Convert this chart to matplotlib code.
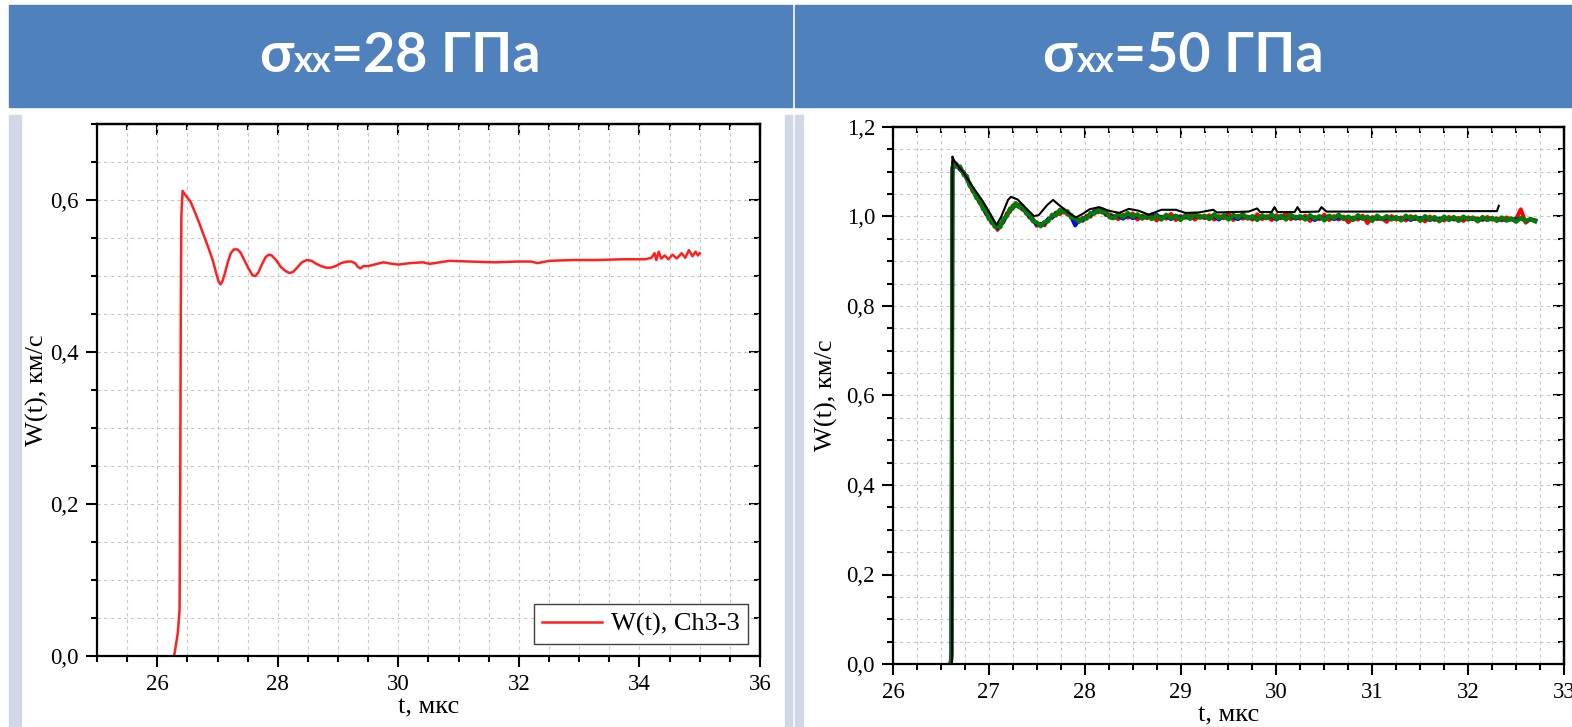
import matplotlib.pyplot as plt
from matplotlib.patches import Rectangle
from matplotlib.ticker import MultipleLocator, FuncFormatter

# ---------------- data ----------------
# left panel: sigma_xx = 28 GPa
t_28 = [26.28, 26.34, 26.37, 26.38, 26.39, 26.40, 26.42, 26.47, 26.55, 26.62,
        26.70, 26.76, 26.84, 26.92, 26.98, 27.02, 27.05, 27.08, 27.12, 27.17,
        27.22, 27.27, 27.33, 27.38, 27.45, 27.52, 27.58, 27.63, 27.68, 27.74,
        27.80, 27.85, 27.90, 27.97, 28.05, 28.12, 28.19, 28.25, 28.32, 28.40,
        28.48, 28.56, 28.64, 28.72, 28.80, 28.88, 28.96, 29.05, 29.15, 29.22,
        29.28, 29.33, 29.37, 29.42, 29.50, 29.60, 29.75, 29.90, 30.00, 30.20,
        30.41, 30.52, 30.85, 31.19, 31.60, 31.96, 32.20, 32.31, 32.51, 32.90,
        33.30, 33.70, 34.10, 34.20, 34.25, 34.28, 34.32, 34.36, 34.42, 34.48,
        34.55, 34.62, 34.70, 34.76, 34.82, 34.88, 34.93, 34.97, 35.00]
w_28 = [0.000, 0.030, 0.060, 0.200, 0.450, 0.580, 0.612, 0.606, 0.598, 0.585,
        0.569, 0.556, 0.539, 0.521, 0.503, 0.492, 0.489, 0.493, 0.503, 0.518,
        0.530, 0.535, 0.535, 0.531, 0.520, 0.509, 0.501, 0.500, 0.505, 0.516,
        0.525, 0.528, 0.527, 0.521, 0.512, 0.507, 0.504, 0.505, 0.511, 0.518,
        0.521, 0.520, 0.516, 0.513, 0.511, 0.511, 0.513, 0.517, 0.519, 0.519,
        0.517, 0.512, 0.510, 0.513, 0.513, 0.515, 0.518, 0.516, 0.515, 0.517,
        0.518, 0.516, 0.520, 0.519, 0.518, 0.519, 0.519, 0.517, 0.520, 0.521,
        0.521, 0.522, 0.522, 0.524, 0.530, 0.521, 0.532, 0.523, 0.527, 0.522,
        0.528, 0.523, 0.530, 0.524, 0.534, 0.526, 0.532, 0.527, 0.530]

# right panel: sigma_xx = 50 GPa, three noisy channels on a common time base
t_osc = [26.60, 26.61, 26.62, 26.63, 26.66, 26.70, 26.74, 26.77, 26.80, 26.83,
         26.87, 26.90, 26.94, 26.97, 27.00, 27.03, 27.06, 27.09, 27.12, 27.15,
         27.19, 27.22, 27.25, 27.28, 27.32, 27.35, 27.39, 27.42, 27.46, 27.50,
         27.54, 27.58, 27.62, 27.66, 27.70, 27.74, 27.78, 27.82, 27.86, 27.90,
         27.94, 27.98, 28.02, 28.06, 28.10, 28.14, 28.18, 28.22, 28.26]
t_plat = [28.30, 28.35, 28.40, 28.45, 28.50, 28.55, 28.60, 28.65, 28.70, 28.75,
          28.80, 28.85, 28.90, 28.95, 29.00, 29.05, 29.10, 29.15, 29.20, 29.25,
          29.30, 29.35, 29.40, 29.45, 29.50, 29.55, 29.60, 29.65, 29.70, 29.75,
          29.80, 29.85, 29.90, 29.95, 30.00, 30.05, 30.10, 30.15, 30.20, 30.25,
          30.30, 30.35, 30.40, 30.45, 30.50, 30.55, 30.60, 30.65, 30.70, 30.75,
          30.80, 30.85, 30.90, 30.95, 31.00, 31.05, 31.10, 31.15, 31.20, 31.25,
          31.30, 31.35, 31.40, 31.45, 31.50, 31.55, 31.60, 31.65, 31.70, 31.75,
          31.80, 31.85, 31.90, 31.95, 32.00, 32.05, 32.10, 32.15, 32.20, 32.25,
          32.30, 32.35, 32.40, 32.45, 32.50, 32.55, 32.60, 32.65, 32.70]

red_osc = [0.000, 0.020, 1.110, 1.114, 1.118, 1.104, 1.099, 1.083, 1.075, 1.056,
           1.049, 1.031, 1.022, 1.005, 1.000, 0.985, 0.983, 0.970, 0.983, 0.986,
           1.008, 1.010, 1.025, 1.023, 1.027, 1.015, 1.013, 0.998, 0.995, 0.979,
           0.984, 0.980, 0.995, 0.997, 1.009, 1.005, 1.016, 1.004, 1.004, 0.989,
           0.994, 0.990, 1.002, 0.999, 1.013, 1.009, 1.017, 1.003, 1.005]
red_plat = [1.001, 0.994, 1.004, 0.997, 1.007, 0.993, 1.002, 0.996, 1.005, 0.991,
            1.000, 0.995, 1.006, 0.992, 1.001, 0.997, 1.004, 0.993, 1.002, 0.996,
            1.003, 0.993, 1.001, 0.996, 1.007, 0.992, 1.002, 0.995, 1.000, 0.993,
            1.005, 0.994, 1.001, 0.992, 1.003, 0.996, 1.008, 0.994, 1.000, 0.995,
            1.002, 0.990, 0.999, 0.994, 1.004, 0.992, 1.001, 0.993, 1.000, 0.987,
            0.998, 0.993, 1.002, 0.985, 0.999, 0.994, 0.996, 0.988, 1.001, 0.993,
            0.998, 0.991, 1.001, 0.994, 0.997, 0.989, 1.000, 0.992, 0.996, 0.991,
            0.999, 0.993, 0.997, 0.990, 0.998, 0.994, 0.996, 0.992, 0.999, 0.993,
            0.996, 0.991, 0.998, 0.993, 0.995, 1.016, 0.986, 0.995, 0.991]

blue_osc = [0.000, 0.025, 1.100, 1.124, 1.116, 1.106, 1.097, 1.086, 1.070, 1.061,
            1.044, 1.035, 1.019, 1.008, 0.999, 0.988, 0.982, 0.974, 0.982, 0.989,
            1.003, 1.015, 1.020, 1.029, 1.022, 1.018, 1.012, 1.001, 0.992, 0.982,
            0.983, 0.984, 0.994, 0.998, 1.007, 1.012, 1.011, 1.010, 0.999, 0.980,
            0.992, 0.993, 0.999, 1.003, 1.011, 1.012, 1.012, 1.006, 1.001]
blue_plat = [0.999, 1.002, 0.995, 1.004, 0.996, 1.001, 0.998, 1.000, 0.997, 1.004,
             0.996, 1.001, 0.994, 1.002, 0.997, 1.000, 0.995, 1.003, 0.998, 0.999,
             0.997, 1.001, 0.993, 1.003, 0.996, 0.999, 0.994, 1.002, 0.997, 0.998,
             0.995, 1.000, 0.997, 1.001, 0.993, 1.000, 0.996, 1.002, 0.995, 0.999,
             0.996, 1.000, 0.992, 0.999, 0.995, 1.001, 0.994, 0.998, 0.996, 0.999,
             0.994, 0.999, 0.995, 0.998, 0.993, 0.999, 0.994, 0.997, 0.995, 0.998,
             0.994, 0.998, 0.992, 0.997, 0.995, 0.998, 0.992, 0.996, 0.994, 0.997,
             0.993, 0.996, 0.991, 0.997, 0.994, 0.996, 0.992, 0.995, 0.993, 0.996,
             0.992, 0.995, 0.991, 0.994, 0.993, 0.996, 0.990, 0.993, 0.991]

green_osc = [0.000, 0.012, 1.102, 1.121, 1.111, 1.112, 1.092, 1.091, 1.068, 1.063,
             1.041, 1.039, 1.016, 1.013, 0.994, 0.993, 0.977, 0.978, 0.976, 0.994,
             1.001, 1.018, 1.018, 1.030, 1.020, 1.024, 1.006, 1.006, 0.989, 0.987,
             0.978, 0.988, 0.989, 1.004, 1.002, 1.015, 1.009, 1.012, 0.997, 0.996,
             0.988, 0.997, 0.995, 1.008, 1.006, 1.016, 1.009, 1.011, 0.998]
green_plat = [0.996, 1.006, 0.998, 1.008, 0.999, 1.005, 0.995, 1.003, 0.994, 1.002,
              0.993, 1.004, 0.996, 1.001, 0.992, 1.003, 0.995, 1.006, 0.997, 1.002,
              0.994, 1.005, 0.996, 1.002, 0.993, 1.004, 0.997, 1.006, 0.995, 1.001,
              0.992, 1.003, 0.996, 1.005, 0.994, 1.002, 0.993, 1.004, 0.997, 1.001,
              0.993, 1.003, 0.995, 1.001, 0.991, 1.002, 0.996, 1.004, 0.994, 1.000,
              0.992, 1.003, 0.995, 1.000, 0.990, 1.002, 0.994, 1.001, 0.993, 0.999,
              0.991, 1.002, 0.994, 1.000, 0.990, 1.001, 0.993, 0.999, 0.989, 1.000,
              0.992, 0.999, 0.990, 1.000, 0.993, 0.998, 0.989, 0.999, 0.992, 0.997,
              0.990, 0.998, 0.991, 0.996, 0.988, 0.997, 0.990, 0.994, 0.989]

t_black = [26.615, 26.62, 26.64, 26.73, 26.83, 26.94, 27.02, 27.08, 27.13, 27.20,
           27.23, 27.30, 27.39, 27.47, 27.52, 27.61, 27.67, 27.73, 27.84, 27.91,
           27.98, 28.05, 28.15, 28.25, 28.36, 28.46, 28.56, 28.67, 28.80, 28.95,
           29.05, 29.19, 29.34, 29.38, 29.71, 29.80, 29.83, 29.95, 29.98, 30.01,
           30.19, 30.22, 30.25, 30.44, 30.47, 30.52, 31.00, 31.50, 32.22, 32.30, 32.32]
w_black = [0.000, 1.134, 1.123, 1.100, 1.067, 1.033, 1.004, 0.981, 1.000, 1.037,
           1.044, 1.038, 1.018, 1.001, 1.003, 1.026, 1.037, 1.026, 1.007, 0.998,
           1.006, 1.016, 1.021, 1.013, 1.008, 1.017, 1.013, 1.004, 1.015, 1.015,
           1.008, 1.009, 1.015, 1.009, 1.011, 1.018, 1.010, 1.010, 1.021, 1.010,
           1.010, 1.021, 1.010, 1.011, 1.021, 1.011, 1.011, 1.012, 1.012, 1.012, 1.024]

titles = ['28', '50']
legend_label = 'W(t), Ch3-3'
xlabel = 't, мкс'
ylabel = 'W(t), км/с'

# ---------------- figure ----------------
W, H = 1572, 727
fig = plt.figure(figsize=(W / 100, H / 100), dpi=100)
serif = 'Liberation Serif'
head_fonts = ['Lato', 'Open Sans', 'DejaVu Sans']


def box(x0, y0, x1, y1, color):
    fig.patches.append(Rectangle((x0 / W, 1 - y1 / H), (x1 - x0) / W, (y1 - y0) / H,
                                 transform=fig.transFigure, color=color, zorder=0))


# blue title bands and pale side strips
box(9, 5, 792, 107, '#4F81BD')
box(795, 5, 1572, 107, '#4F81BD')
for x0, x1 in [(9, 21), (785, 792), (795, 803)]:
    box(x0, 115, x1, 727, '#D0D8E8')


def header(cx, value):
    r = fig.canvas.get_renderer()
    parts = [('σ', 40, 0), ('xx', 26, 0), ('=' + value + ' ГПа', 40, 0)]
    texts = []
    for s, size, dy in parts:
        t = fig.text(0, 0, s, color='white', fontsize=size, fontweight='bold',
                     family=head_fonts, va='baseline', ha='left')
        texts.append((t, dy))
    widths = [t.get_window_extent(r).width for t, _ in texts]
    x = cx - sum(widths) / 2
    for (t, dy), w in zip(texts, widths):
        t.set_position((x / W, 1 - (72 + dy) / H))
        x += w


header(400, titles[0])
header(1183, titles[1])

comma = FuncFormatter(lambda v, p: f'{v:.1f}'.replace('.', ','))


def style(ax, xmaj, xmin, ylabelpad):
    for s in ax.spines.values():
        s.set_linewidth(1.6)
    ax.xaxis.set_major_locator(MultipleLocator(xmaj))
    ax.xaxis.set_minor_locator(MultipleLocator(xmin))
    ax.yaxis.set_major_locator(MultipleLocator(0.2))
    ax.yaxis.set_minor_locator(MultipleLocator(0.05))
    ax.yaxis.set_major_formatter(comma)
    ax.tick_params(which='major', direction='out', length=8, width=1.5,
                   labelsize=16.5, pad=5)
    ax.tick_params(which='minor', direction='out', length=4, width=1.5)
    for lab in ax.get_xticklabels() + ax.get_yticklabels():
        lab.set_fontfamily(serif)
    ax.grid(which='both', color='#C8C8C8', linestyle=(0, (3, 3)), linewidth=0.8)
    ax.set_axisbelow(True)
    ax.set_xlabel(xlabel, fontsize=19, family=serif, labelpad=1)
    ax.set_ylabel(ylabel, fontsize=19, family=serif, labelpad=ylabelpad)

    # inward ticks on the top and right frame lines
    top = ax.secondary_xaxis('top')
    top.xaxis.set_major_locator(MultipleLocator(xmaj))
    top.xaxis.set_minor_locator(MultipleLocator(xmin))
    right = ax.secondary_yaxis('right')
    right.yaxis.set_major_locator(MultipleLocator(0.2))
    right.yaxis.set_minor_locator(MultipleLocator(0.05))
    for sec in (top, right):
        sec.tick_params(which='major', direction='in', length=8, width=1.5,
                        labeltop=False, labelright=False)
        sec.tick_params(which='minor', direction='in', length=4, width=1.5)
        for s in sec.spines.values():
            s.set_linewidth(1.6)


# left panel
ax1 = fig.add_axes([97 / W, 1 - 656 / H, 663 / W, 532 / H])
ax1.plot(t_28, w_28, color='#FF2020', lw=1.8, label=legend_label)
ax1.set_xlim(25, 36)
ax1.set_ylim(0, 0.7)
style(ax1, 2, 0.5, 1)
leg = ax1.legend(loc='lower right', fancybox=False, edgecolor='#404040',
                 framealpha=1, handlelength=2.3, handletextpad=0.35,
                 borderpad=0.3, borderaxespad=0.45,
                 prop={'family': serif, 'size': 19})
leg.get_frame().set_linewidth(1.0)

# right panel
ax2 = fig.add_axes([893 / W, 1 - 664 / H, 671 / W, 537 / H])
ax2.plot(t_osc + t_plat, red_osc + red_plat, color='#FF0000', lw=2.8)
ax2.plot(t_osc + t_plat, blue_osc + blue_plat, color='#0000FF', lw=2.8)
ax2.plot(t_osc + t_plat, green_osc + green_plat, color='#008000', lw=3.0)
ax2.plot(t_black, w_black, color='black', lw=1.5)
ax2.set_xlim(26, 33)
ax2.set_ylim(0, 1.2)
style(ax2, 1, 0.25, 6)

fig.savefig('out.png', dpi=100)
